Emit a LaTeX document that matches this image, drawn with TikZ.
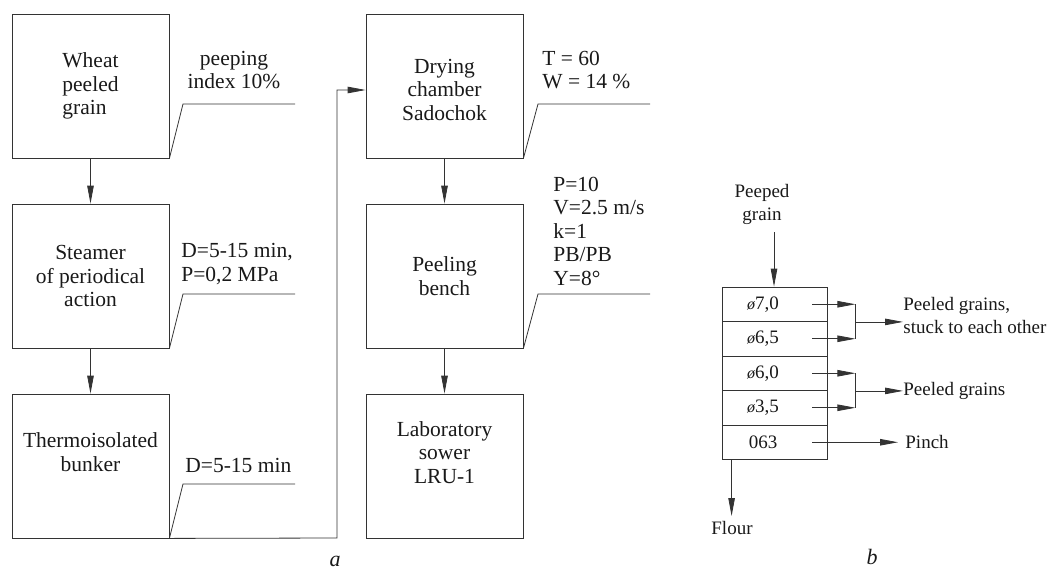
\documentclass[tikz,border=0pt]{standalone}
\usepackage{fontspec}
\setmainfont{Liberation Serif}
\usetikzlibrary{arrows.meta}
\begin{document}
\begin{tikzpicture}[x=1pt,y=-1pt,
  line width=0.8pt, draw=black!80,
  every node/.style={inner sep=0pt, text=black!90},
  big/.style={font=\fontsize{21.5}{23.5}\selectfont},
  small/.style={font=\fontsize{19}{23}\selectfont},
  proc/.style={draw, big, align=center, minimum width=157pt, minimum height=144pt},
  row/.style={draw, minimum width=105pt, minimum height=34.5pt},
  arr/.style={-{Stealth[length=18pt,width=6.5pt,inset=0pt]}},
  note/.style={big}
]
\useasboundingbox (0,0) rectangle (1051,571);

% ---- part a: left column
\node[proc, align=left] (w) at (90.5,86) {Wheat\\peeled\\grain};
\node[proc] (s) at (90.5,276) {Steamer\\of periodical\\action};
\node[proc] (t) at (90.5,466) {Thermoisolated\\bunker\\[4pt]};

\draw[arr] (w.south) -- (s.north);
\draw[arr] (s.south) -- (t.north);

% ---- part a: right column
\node[proc] (d) at (444.5,86) {\\[-2pt]Drying\\chamber\\Sadochok};
\node[proc] (p) at (444.5,276) {Peeling\\bench};
\node[proc] (l) at (444.5,466) {Laboratory\\sower\\LRU-1\\[4pt]};

\draw[arr] (d.south) -- (p.north);
\draw[arr] (p.south) -- (l.north);

% loop connector
\coordinate (c1) at (337,538);
\coordinate (c2) at (337,90);
\draw[arr] (t.south east) -- (c1) -- (c2) -- (c2 -| d.west);

% callouts
\coordinate (wc) at (183,104);
\draw (w.south east) -- (wc) -- ++(112,0);
\node[note, align=center] (wn) at (234,70) {peeping\\index 10\%};

\coordinate (sc) at (183,294);
\draw (s.south east) -- (sc) -- ++(112,0);
\node[note, align=left, anchor=west] (sn) at (181,264) {D=5-15 min,\\P=0,2 MPa};

\coordinate (tc) at (183,484);
\draw (t.south east) -- (tc) -- ++(112,0);
\node[note, anchor=west] (tn) at (185,465) {D=5-15 min};

\coordinate (dc) at (538,104);
\draw (d.south east) -- (dc) -- ++(112,0);
\node[note, align=left, anchor=west] (dn) at (542,70) {T = 60\\W = 14 \%};

\coordinate (pc) at (538,294);
\draw (p.south east) -- (pc) -- ++(112,0);
\node[note, align=left, anchor=west] (pn) at (553,231) {P=10\\V=2.5 m/s\\k=1\\PB/PB\\Y=8°};

\node[font=\fontsize{22}{23.5}\selectfont\itshape] (la) at (335,561) {a};

% ---- part b
\node[row] (r1) at (774.5,304.25) {};
\node[row] (r2) at (774.5,338.75) {};
\node[row] (r3) at (774.5,373.25) {};
\node[row] (r4) at (774.5,407.75) {};
\node[row] (r5) at (774.5,442.25) {};

\newcommand{\dia}{{\fontsize{16}{16}\selectfont\itshape ø}}
\node[small] (t1) at (763,304.25) {\dia 7,0};
\node[small] (t2) at (763,338.75) {\dia 6,5};
\node[small] (t3) at (763,373.25) {\dia 6,0};
\node[small] (t4) at (763,407.75) {\dia 3,5};
\node[small] (t5) at (763,442.25) {063};

\node[small, align=center] (in) at (762,204) {Peeped\\grain};
\draw[arr] (774,232) -- (r1.north -| 774,0);

% brackets group 1
\coordinate (b1) at ([xshift=28pt]r1.east);
\coordinate (b2) at ([xshift=28pt]r2.east);
\draw[arr] ([xshift=-15pt]r1.east) -- (b1);
\draw[arr] ([xshift=-15pt]r2.east) -- (b2);
\draw (b1) -- (b2);
\coordinate (m1) at ([xshift=28pt]r1.south east);
\node[small, align=left, anchor=west] (g1) at (903,315.5) {Peeled grains,\\stuck to each other};
\draw[arr] (m1) -- (m1 -| g1.west);

% brackets group 2
\coordinate (b3) at ([xshift=28pt]r3.east);
\coordinate (b4) at ([xshift=28pt]r4.east);
\draw[arr] ([xshift=-15pt]r3.east) -- (b3);
\draw[arr] ([xshift=-15pt]r4.east) -- (b4);
\draw (b3) -- (b4);
\coordinate (m2) at ([xshift=28pt]r3.south east);
\node[small, anchor=west] (g2) at (903,391) {Peeled grains};
\draw[arr] (m2) -- (m2 -| g2.west);

% pinch
\node[small, anchor=west] (g3) at (905,442.25) {Pinch};
\draw[arr] ([xshift=-15pt]r5.east) -- ([xshift=-7pt]g3.west);

% flour
\coordinate (f0) at ([xshift=10pt]r5.south west);
\node[small] (fl) at (732,528) {Flour};
\draw[arr] (f0) -- (f0 |- 0,516);

\node[font=\fontsize{22}{23.5}\selectfont\itshape] (lb) at (872,557) {b};
\end{tikzpicture}
\end{document}
